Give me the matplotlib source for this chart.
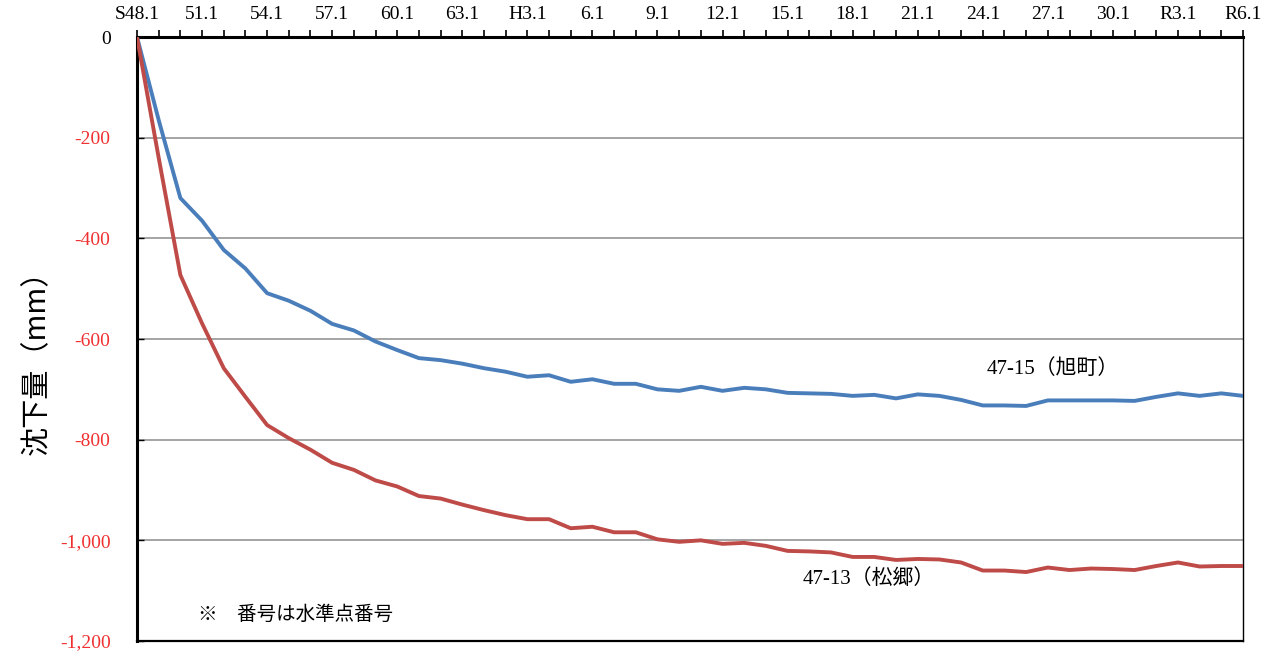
import matplotlib.pyplot as plt
from matplotlib.ticker import FuncFormatter

# 年 (S48 = 1973 ... R6 = 2024)、毎年1月
years = list(range(1973, 2025))
tick_labels = ["S48.1", "51.1", "54.1", "57.1", "60.1", "63.1", "H3.1", "6.1", "9.1",
               "12.1", "15.1", "18.1", "21.1", "24.1", "27.1", "30.1", "R3.1", "R6.1"]

# 累積沈下量 (mm)
asahi = [0, -165, -320, -365, -423, -460, -509, -524, -544, -570, -583, -605, -622,
         -638, -642, -649, -658, -665, -675, -672, -685, -680, -689, -689, -700, -703,
         -695, -703, -697, -700, -707, -708, -709, -713, -711, -718, -710, -713, -721,
         -732, -732, -733, -722, -722, -722, -722, -723, -715, -708, -713, -708, -713]
matsugo = [0, -240, -473, -569, -658, -715, -771, -797, -820, -846, -860, -881, -893,
           -912, -917, -929, -940, -950, -958, -958, -976, -973, -984, -984, -998, -1003,
           -1000, -1007, -1005, -1011, -1021, -1022, -1024, -1033, -1033, -1039, -1037,
           -1038, -1044, -1060, -1060, -1063, -1054, -1059, -1056, -1057, -1059, -1051,
           -1044, -1052, -1051, -1051]

fonts = ["Liberation Serif", "Noto Sans CJK JP", "DejaVu Sans"]
plt.rcParams["font.family"] = fonts

fig = plt.figure(figsize=(12.76, 6.57), dpi=100)
ax = fig.add_axes([137 / 1276, 1 - 641 / 657, 1106 / 1276, 604 / 657])

ax.plot(years, asahi, color="#4A7EBB", linewidth=2.8, zorder=3)
ax.plot(years, matsugo, color="#BE4B48", linewidth=2.8, zorder=3)

ax.set_xlim(years[0], years[-1])
ax.set_ylim(-1200, 0)

# x軸は上側
ax.xaxis.tick_top()
ax.set_xticks(years[::3])
ax.set_xticklabels(tick_labels, fontsize=14)
ax.set_xticks(years, minor=True)
ax.tick_params(axis="x", which="both", direction="out", length=5, width=1.2, pad=5)

ax.set_yticks(range(-1200, 1, 200))
ax.yaxis.set_major_formatter(FuncFormatter(lambda v, p: f"{int(v):,}"))
ax.tick_params(axis="y", direction="in", length=5, width=1, labelsize=14, pad=19)
for lab in ax.get_yticklabels():
    lab.set_color("black" if lab.get_text() == "0" else "#F03030")

ax.grid(axis="y", color="#8C8C8C", linewidth=1.1)
ax.set_axisbelow(True)

ax.spines["left"].set_linewidth(2.2)
ax.spines["top"].set_linewidth(2.2)
ax.spines["right"].set_linewidth(1)
ax.spines["bottom"].set_linewidth(1.6)

ax.text(2012.2, -660, "47-15（旭町）", fontsize=15, ha="left", va="center")
ax.text(2003.7, -1076, "47-13（松郷）", fontsize=15, ha="left", va="center")
ax.text(1975.8, -1148, "※　番号は水準点番号", fontsize=14, ha="left", va="center",
        family=["Noto Sans CJK JP", "DejaVu Sans"])

fig.text(37 / 1276, 1 - 355 / 657, "沈下量（mm）", rotation=90, fontsize=21,
         ha="center", va="center", family=["Noto Sans CJK JP", "DejaVu Sans"])

fig.savefig("out.png", dpi=100)
plt.close(fig)
